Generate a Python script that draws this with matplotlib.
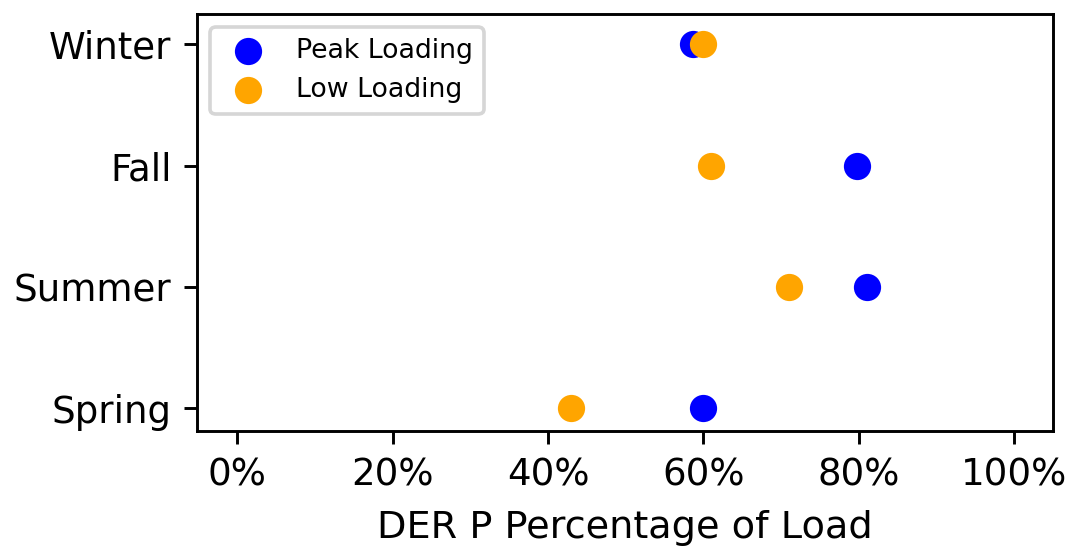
import matplotlib
matplotlib.use("Agg")
import matplotlib.pyplot as plt
from matplotlib.ticker import FuncFormatter

seasons = ["Spring", "Summer", "Fall", "Winter"]
peak_loading = [60.0, 81.0, 79.8, 58.6]
low_loading = [43.0, 71.0, 61.0, 60.0]
x_ticks = [0, 20, 40, 60, 80, 100]

DPI = 262
fig = plt.figure(figsize=(1070 / DPI, 546 / DPI), dpi=DPI)
ax = fig.add_axes([197 / 1070, 1 - 430.7 / 546, (1053 - 197) / 1070, (430.7 - 14) / 546])

ypos = list(range(len(seasons)))
ax.scatter(peak_loading, ypos, s=42, color="blue", label="Peak Loading", zorder=2)
ax.scatter(low_loading, ypos, s=42, color="orange", label="Low Loading", zorder=3)

ax.set_yticks(ypos)
ax.set_yticklabels(seasons)
ax.set_xticks(x_ticks)
ax.xaxis.set_major_formatter(FuncFormatter(lambda v, p: f"{v:.0f}%"))
ax.set_xlim(-5.2, 105)
ax.set_ylim(-0.185, 3.25)
ax.tick_params(labelsize=10.2)
ax.set_xlabel("DER P Percentage of Load", fontsize=10.5, labelpad=4.5)
ax.legend(loc="upper left", fontsize=7.35)

fig.savefig("out.png", dpi=DPI)
